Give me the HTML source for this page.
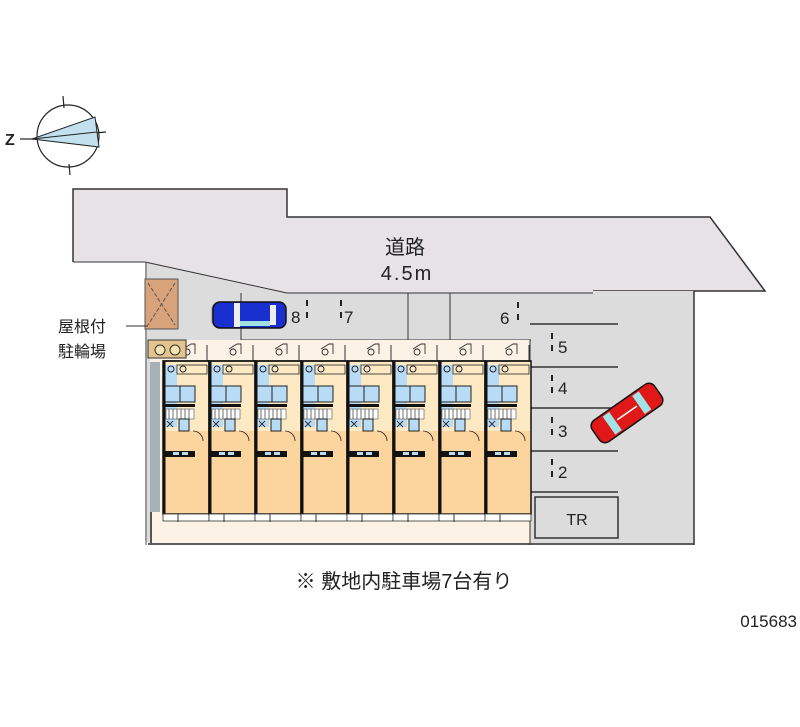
<!DOCTYPE html>
<html><head><meta charset="utf-8"><style>
html,body{margin:0;padding:0;background:#fff;}
svg{display:block;}
text{font-family:"Liberation Sans","Noto Sans CJK JP",sans-serif;fill:#222;}
</style></head><body>
<svg width="800" height="727" viewBox="0 0 800 727" xmlns="http://www.w3.org/2000/svg">
<defs>
<g id="unit">
  <rect x="0" y="0" width="46" height="153" fill="#fde9c4"/>
  <rect x="0" y="70" width="46" height="83" fill="#fcd49e"/>
  <rect x="2" y="4" width="12" height="62" fill="#b9dcf6"/>
  <rect x="14" y="4" width="30" height="9" fill="#fde9c4" stroke="#222" stroke-width="0.8"/>
  <circle cx="8" cy="8" r="3" fill="none" stroke="#222" stroke-width="1"/>
  <circle cx="20" cy="8" r="3" fill="none" stroke="#222" stroke-width="1"/>
  <rect x="2" y="25" width="30" height="16" fill="#b9dcf6" stroke="#222" stroke-width="1"/>
  <line x1="17" y1="25" x2="17" y2="41" stroke="#222"/>
  <rect x="0" y="43" width="32" height="3" fill="#111"/>
  <rect x="3" y="48" width="28" height="10" fill="#fff" stroke="#333" stroke-width="0.5"/>
  <path d="M6 48v10M10 48v10M14 48v10M18 48v10M22 48v10M26 48v10" stroke="#333" stroke-width="0.7"/>
  <rect x="16" y="58" width="10" height="12" fill="#b9dcf6" stroke="#222" stroke-width="1"/>
  <path d="M4 60l6 6M10 60l-6 6" stroke="#333" stroke-width="1"/>
  <path d="M30 70 a10 10 0 0 1 10 10" fill="none" stroke="#222" stroke-width="0.8"/>
  <rect x="0" y="90" width="32" height="6" fill="#111"/>
  <rect x="10" y="91" width="6" height="3" fill="#b9dcf6"/>
  <rect x="19" y="91" width="6" height="3" fill="#b9dcf6"/>
  <rect x="0" y="0" width="46" height="153" fill="none" stroke="#111" stroke-width="1.5"/>
  <line x1="1" y1="0" x2="1" y2="153" stroke="#111" stroke-width="3"/>
  <rect x="0" y="153" width="46" height="7" fill="#fff" stroke="#333" stroke-width="0.8"/>
  <line x1="15" y1="153" x2="15" y2="161" stroke="#333"/>
  <path d="M20 -12 l8 -5 h4 v10 M24 -6 a3 3 0 1 1 0.1 0" fill="none" stroke="#333" stroke-width="0.9"/>
  <line x1="44" y1="-16" x2="44" y2="0" stroke="#333"/>
</g>
</defs>

<!-- compass -->
<g stroke="#222" stroke-width="1.2" fill="none">
  <circle cx="68" cy="136" r="31"/>
  <line x1="63" y1="96" x2="64" y2="108"/>
  <line x1="69" y1="164" x2="70" y2="175"/>
  <line x1="95" y1="133" x2="106" y2="132"/>
  <line x1="20" y1="139" x2="34" y2="139"/>
</g>
<polygon points="32,139 95,117 99,147" fill="#c3e0ef" stroke="#222" stroke-width="1"/>
<line x1="32" y1="139" x2="97" y2="132" stroke="#222" stroke-width="1"/>
<text x="5" y="145" font-size="16" font-weight="bold">Z</text>

<!-- road -->
<polygon points="73,189 287,189 287,217 710,217 765,291 593,291 593,293 287,293 145,262 73,262" fill="#e6e2e6"/>
<polyline points="73,262 73,189 287,189 287,217 710,217 765,291 593,291" fill="none" stroke="#333" stroke-width="1.5"/>
<line x1="73" y1="262" x2="145" y2="262" stroke="#333" stroke-width="1"/>
<text x="405" y="254" font-size="20" text-anchor="middle">道路</text>
<text x="407" y="280" font-size="20" text-anchor="middle" letter-spacing="2">4.5m</text>

<!-- lot -->
<polygon points="145,262 287,293 593,293 593,291 694,291 694,545 150,545 145,540" fill="#dcdcdc"/>
<line x1="145" y1="262" x2="287" y2="293" stroke="#333" stroke-width="1"/>
<line x1="287" y1="293" x2="593" y2="293" stroke="#333" stroke-width="1"/>
<line x1="694" y1="291" x2="694" y2="545" stroke="#333" stroke-width="1.5"/>
<line x1="148" y1="544" x2="694" y2="544" stroke="#333" stroke-width="1.5"/>
<line x1="146" y1="262" x2="146" y2="545" stroke="#555" stroke-width="1"/>
<!-- top parking lines -->
<g stroke="#333" stroke-width="1">
  <line x1="241" y1="293" x2="241" y2="340"/>
  <line x1="408" y1="293" x2="408" y2="340"/>
  <line x1="450" y1="293" x2="450" y2="340"/>
  <line x1="241" y1="340" x2="531" y2="340"/>
</g>
<g stroke="#222" stroke-width="2">
  <path d="M307 300v6M307 312v6M341 300v6M341 312v6M518 302v6M518 314v6"/>
  <path d="M552 333v6M552 345v6M552 375v6M552 387v6M552 417v6M552 429v6M552 459v6M552 471v6"/>
</g>
<text x="291" y="323" font-size="17">8</text>
<text x="344" y="323" font-size="17">7</text>
<text x="500" y="324" font-size="17">6</text>
<text x="558" y="353" font-size="17">5</text>
<text x="558" y="394" font-size="17">4</text>
<text x="558" y="437" font-size="17">3</text>
<text x="558" y="478" font-size="17">2</text>
<g stroke="#333" stroke-width="1.5">
  <line x1="530" y1="324" x2="618" y2="324"/>
  <line x1="530" y1="367" x2="618" y2="367"/>
  <line x1="530" y1="408" x2="618" y2="408"/>
  <line x1="530" y1="451" x2="618" y2="451"/>
  <line x1="530" y1="492" x2="618" y2="492"/>
</g>
<rect x="535" y="497" width="83" height="41" fill="#dcdcdc" stroke="#333" stroke-width="1.5"/>
<text x="577" y="525" font-size="16" text-anchor="middle">TR</text>

<!-- building area -->
<rect x="150" y="340" width="380" height="203" fill="#fdf2e6"/>
<line x1="151" y1="362" x2="151" y2="543" stroke="#222" stroke-width="1.5"/>
<line x1="530" y1="340" x2="530" y2="545" stroke="#333" stroke-width="1"/>
<rect x="150" y="362" width="10" height="150" fill="#a7b2b6"/>
<g>
  <use href="#unit" x="163" y="361"/>
  <use href="#unit" x="209" y="361"/>
  <use href="#unit" x="255" y="361"/>
  <use href="#unit" x="301" y="361"/>
  <use href="#unit" x="347" y="361"/>
  <use href="#unit" x="393" y="361"/>
  <use href="#unit" x="439" y="361"/>
  <use href="#unit" x="485" y="361"/>
</g>
<line x1="163" y1="361" x2="531" y2="361" stroke="#111" stroke-width="1.5"/>

<!-- bike shed -->
<rect x="145" y="279" width="33" height="50" fill="#d8a27a" stroke="#555" stroke-width="1"/>
<path d="M148 283l27 42M175 283l-27 42" stroke="#555" stroke-width="1" stroke-dasharray="4,2"/>
<rect x="148" y="340" width="38" height="18" fill="#e2c48c" stroke="#333" stroke-width="1"/>
<circle cx="160" cy="350" r="5" fill="#f4e2b0" stroke="#333"/>
<circle cx="175" cy="350" r="5" fill="#f4e2b0" stroke="#333"/>
<line x1="126" y1="326" x2="148" y2="326" stroke="#333" stroke-width="1"/>
<text x="58" y="332" font-size="16">屋根付</text>
<text x="58" y="357" font-size="16">駐輪場</text>

<!-- blue car -->
<g transform="translate(248,315)">
  <rect x="-37" y="-13" width="74" height="26" rx="8" fill="#9a8f8a" opacity="0.6"/>
  <rect x="-35" y="-13" width="73" height="26" rx="7" fill="#1a2fd0" stroke="#111" stroke-width="1.5"/>
  <rect x="-14" y="-12" width="6" height="24" fill="#eee"/>
  <rect x="22" y="-10" width="6" height="20" fill="#eee"/>
  <rect x="-8" y="6" width="30" height="5" fill="#9fe0e0"/>
</g>
<!-- red car -->
<g transform="translate(627,413) rotate(-35)">
  <rect x="-38" y="-13" width="76" height="26" rx="7" fill="#e01818" stroke="#111" stroke-width="1.5"/>
  <rect x="-22" y="-11" width="8" height="22" fill="#a0e4e8"/>
  <rect x="14" y="-11" width="8" height="22" fill="#a0e4e8"/>
  <line x1="-12" y1="0" x2="12" y2="0" stroke="#fff" stroke-width="1.5"/>
</g>

<text x="404" y="588" font-size="20" text-anchor="middle">※ 敷地内駐車場7台有り</text>
<text x="797" y="627" font-size="17" text-anchor="end" fill="#333">015683</text>
</svg>
</body></html>
